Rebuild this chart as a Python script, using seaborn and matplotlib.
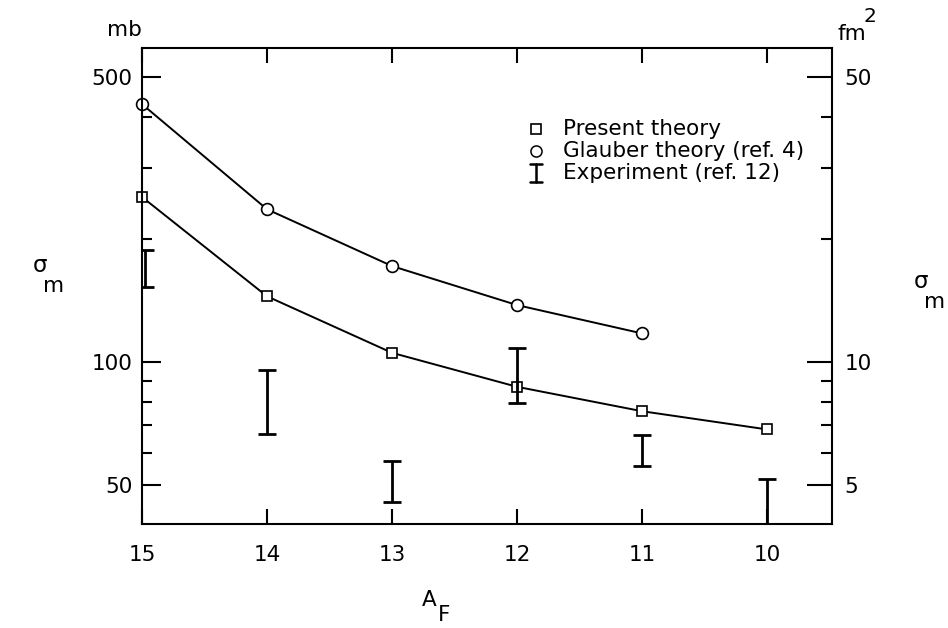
import numpy as np
import pandas as pd
import matplotlib
matplotlib.use("Agg")
import matplotlib.pyplot as plt
import seaborn as sns
from matplotlib.ticker import FixedLocator, NullFormatter, FixedFormatter

# ---- data ----
a_f = [15, 14, 13, 12, 11, 10]
present_theory = [254, 145, 105.4, 87.0, 75.8, 68.4]          # mb
glauber_x = [15, 14, 13, 12, 11]
glauber_theory = [429, 237, 172, 138, 117.6]                  # mb
exp_x = [15, 14, 13, 12, 11, 10]
exp_lo = [152.7, 66.5, 45.4, 79.2, 55.7, 38.0]                # mb
exp_hi = [188, 95.4, 57.3, 108.0, 66.2, 51.6]                 # mb

left_major = [50, 100, 500]
left_minor = [60, 70, 80, 90, 200, 300, 400]
right_major = [5, 10, 50]
right_minor = [6, 7, 8, 9, 20, 30, 40]
x_ticks = [15, 14, 13, 12, 11, 10]

sns.set_theme(style="white")
plt.rcParams['font.family'] = ['DejaVu Sans']
plt.rcParams['text.color'] = 'black'
plt.rcParams['xtick.color'] = 'black'
plt.rcParams['ytick.color'] = 'black'

FS = 15.5

fig = plt.figure(figsize=(9.48, 6.28), dpi=100)
ax = fig.add_axes([142/948, 1-524/628, (832-142)/948, (524-48)/628])

df_p = pd.DataFrame({"A": a_f, "sigma": present_theory})
df_g = pd.DataFrame({"A": glauber_x, "sigma": glauber_theory})

sns.lineplot(data=df_p, x="A", y="sigma", ax=ax, color="black", lw=1.4,
             marker="s", markersize=7.5, markerfacecolor="white",
             markeredgecolor="black", markeredgewidth=1.2, clip_on=False)
sns.lineplot(data=df_g, x="A", y="sigma", ax=ax, color="black", lw=1.4,
             marker="o", markersize=8.5, markerfacecolor="white",
             markeredgecolor="black", markeredgewidth=1.2, clip_on=False)

lo = np.array(exp_lo); hi = np.array(exp_hi)
mid = np.sqrt(lo * hi)
ax.errorbar(np.array(exp_x) - np.array([0.02, 0, 0, 0, 0, 0]), mid,
            yerr=[mid - lo, hi - mid], fmt='none', ecolor='black',
            elinewidth=2.0, capsize=6.5, capthick=2.0)

ax.set_yscale('log')
ax.set_ylim(40.1, 589)
ax.set_xlim(15, 9.48)
ax.set_xlabel(""); ax.set_ylabel("")

ax.yaxis.set_major_locator(FixedLocator(left_major))
ax.yaxis.set_major_formatter(FixedFormatter([str(v) for v in left_major]))
ax.yaxis.set_minor_locator(FixedLocator(left_minor))
ax.yaxis.set_minor_formatter(NullFormatter())
ax.set_xticks(x_ticks)
ax.set_xticklabels([str(v) for v in x_ticks])

ax.tick_params(axis='y', which='major', direction='in', length=14, width=1.5,
               labelsize=FS, pad=7, colors='black')
ax.tick_params(axis='y', which='minor', direction='in', length=7, width=1.5, left=True)
ax.tick_params(axis='x', which='major', direction='in', length=11, width=1.5,
               labelsize=FS, pad=15, top=True, bottom=True, colors='black')

for s in ax.spines.values():
    s.set_color('black'); s.set_linewidth(1.5)

ax2 = ax.twinx()
ax2.set_yscale('log')
ax2.set_ylim(40.1/10, 589/10)
ax2.yaxis.set_major_locator(FixedLocator(right_major))
ax2.yaxis.set_major_formatter(FixedFormatter([str(v) for v in right_major]))
ax2.yaxis.set_minor_locator(FixedLocator(right_minor))
ax2.yaxis.set_minor_formatter(NullFormatter())
ax2.tick_params(axis='y', which='major', direction='in', length=18, width=1.5,
                labelsize=FS, pad=9, colors='black')
ax2.tick_params(axis='y', which='minor', direction='in', length=8, width=1.5, right=True)
for s in ax2.spines.values():
    s.set_visible(False)

# legend (hand-placed, figure coordinates)
lx = 536/948
y1, y2, y3 = 1-129/628, 1-151/628, 1-173/628
ax.plot([lx], [y1], transform=fig.transFigure, marker='s', ms=7.5, mfc='white',
        mec='black', mew=1.2, ls='none', clip_on=False)
ax.plot([lx], [y2], transform=fig.transFigure, marker='o', ms=8, mfc='white',
        mec='black', mew=1.1, ls='none', clip_on=False)
h = 9/628; w = 6/948
ax.plot([lx, lx], [y3 - h, y3 + h], transform=fig.transFigure, color='black', lw=1.8, clip_on=False)
ax.plot([lx - w, lx + w], [y3 + h, y3 + h], transform=fig.transFigure, color='black', lw=1.8, clip_on=False)
ax.plot([lx - w, lx + w], [y3 - h, y3 - h], transform=fig.transFigure, color='black', lw=1.8, clip_on=False)
tx = 563/948
fig.text(tx, y1, "Present theory", ha='left', va='center', fontsize=FS)
fig.text(tx, y2, "Glauber theory (ref. 4)", ha='left', va='center', fontsize=FS)
fig.text(tx, y3, "Experiment (ref. 12)", ha='left', va='center', fontsize=FS)

# axis labels
fig.text(124/948, 1-30/628, "mb", ha='center', va='center', fontsize=FS)
fig.text(852/948, 1-34/628, "fm", ha='center', va='center', fontsize=FS)
fig.text(870/948, 1-16/628, "2", ha='center', va='center', fontsize=FS - 1)
fig.text(40/948, 1-266/628, "σ", ha='center', va='center', fontsize=FS + 1)
fig.text(54/948, 1-286/628, "m", ha='center', va='center', fontsize=FS)
fig.text(921/948, 1-282/628, "σ", ha='center', va='center', fontsize=FS + 1)
fig.text(935/948, 1-302/628, "m", ha='center', va='center', fontsize=FS)
fig.text(429/948, 1-600/628, "A", ha='center', va='center', fontsize=FS)
fig.text(444/948, 1-615/628, "F", ha='center', va='center', fontsize=FS)

fig.savefig("out.png", dpi=100)
